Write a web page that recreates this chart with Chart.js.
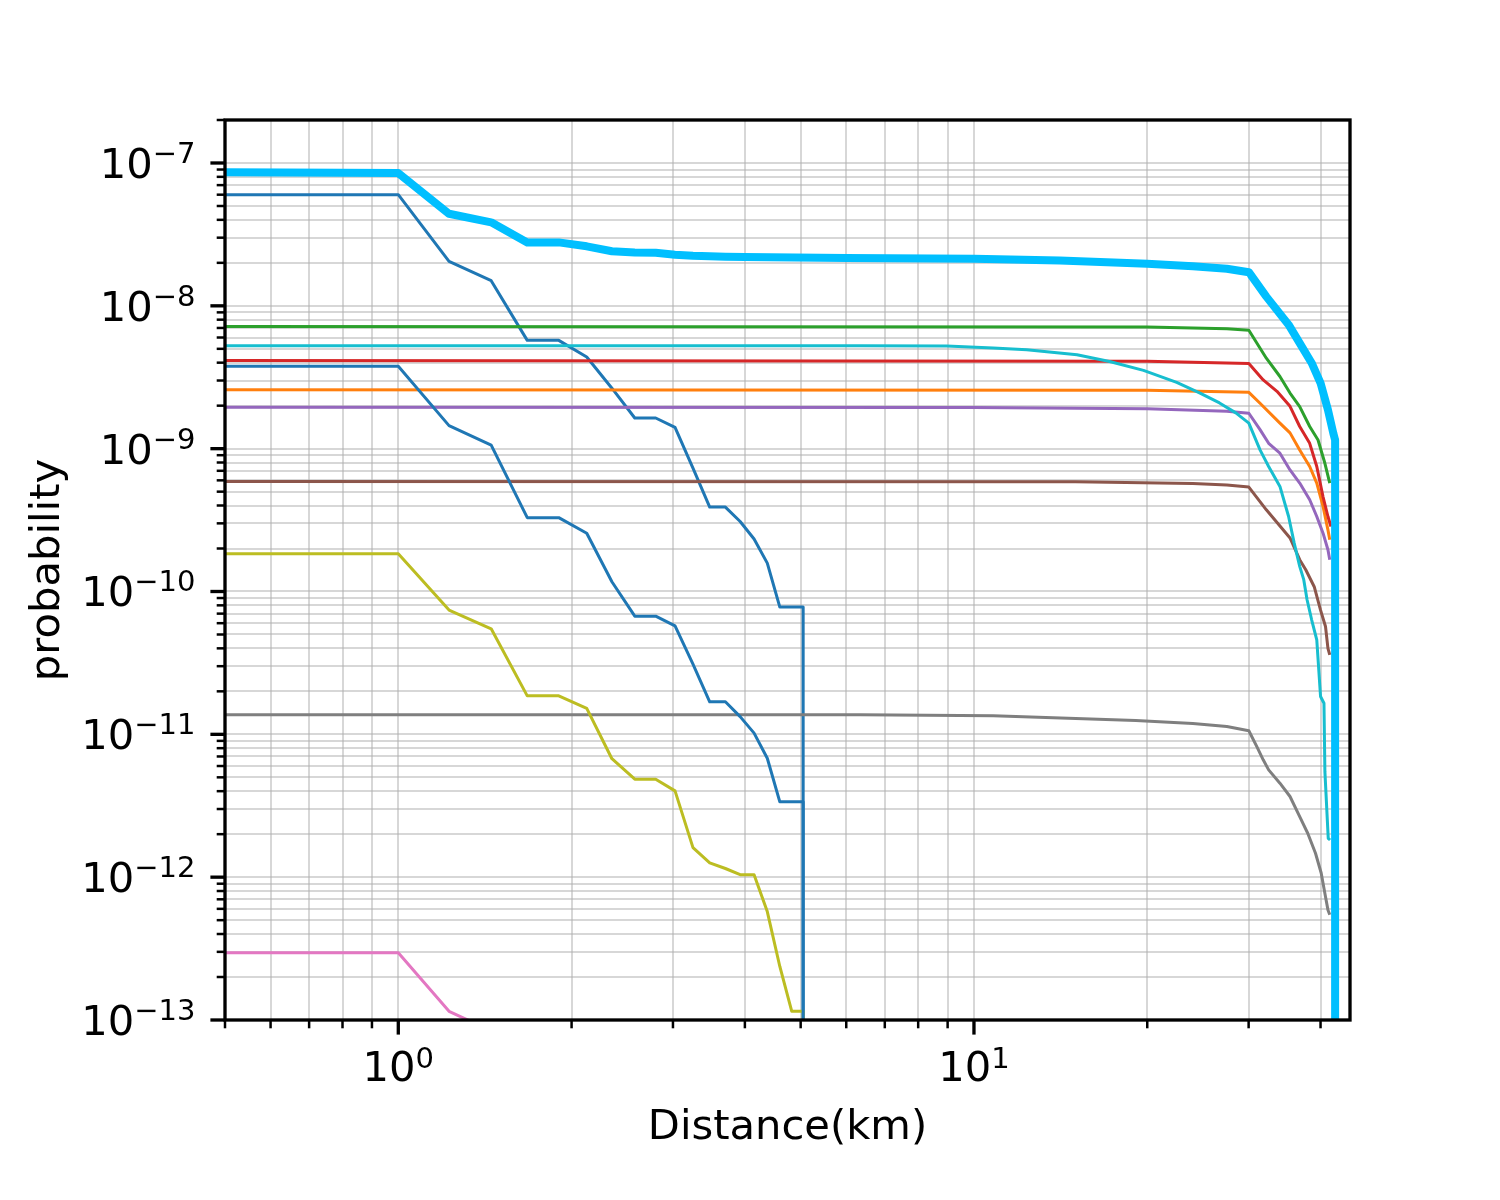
<!DOCTYPE html>
<html>
<head>
<meta charset="utf-8">
<style>
html,body{margin:0;padding:0;background:#ffffff;}
canvas{display:block;}
</style>
<script src="https://cdn.jsdelivr.net/npm/chart.js@4.4.1/dist/chart.umd.min.js"></script>
</head>
<body>
<canvas id="c" width="1500" height="1200" style="width:1500px;height:1200px"></canvas>
<script>
// ---------------- data ----------------
const stepX = [0.5, 1.0, 1.225, 1.45, 1.675, 1.9, 2.125, 2.35, 2.575, 2.8, 3.025, 3.25, 3.475, 3.7, 3.925, 4.15, 4.375, 4.6, 4.825, 5.05, 5.05];

const blueAY = [6.0e-8, 6.0e-8, 2.05e-8, 1.50e-8, 5.73e-9, 5.73e-9, 4.38e-9, 2.65e-9, 1.64e-9, 1.64e-9, 1.41e-9, 7.3e-10, 3.90e-10, 3.90e-10, 3.09e-10, 2.33e-10, 1.58e-10, 7.78e-11, 7.78e-11, 7.78e-11, 1e-16];
const blueBY = [3.77e-9, 3.77e-9, 1.45e-9, 1.06e-9, 3.29e-10, 3.29e-10, 2.56e-10, 1.17e-10, 6.72e-11, 6.72e-11, 5.75e-11, 3.1e-11, 1.69e-11, 1.69e-11, 1.33e-11, 1.02e-11, 6.8e-12, 3.37e-12, 3.37e-12, 3.37e-12, 1e-16];
const oliveY = [1.84e-10, 1.84e-10, 7.42e-11, 5.48e-11, 1.86e-11, 1.86e-11, 1.52e-11, 6.75e-12, 4.85e-12, 4.85e-12, 4.02e-12, 1.61e-12, 1.26e-12, 1.15e-12, 1.04e-12, 1.04e-12, 5.74e-13, 2.37e-13, 1.15e-13, 1.15e-13, 1e-16];

const pinkX = [0.5, 1.0, 1.225, 1.45, 1.675];
const pinkY = [2.96e-13, 2.96e-13, 1.15e-13, 8.4e-14, 3.0e-14];

const sumX = [0.5, 1.0, 1.225, 1.45, 1.675, 1.9, 2.125, 2.35, 2.575, 2.8, 3.025, 3.25, 3.475, 3.7, 4.0, 6.0, 10.0, 14.1, 20.0, 24.0, 27.5, 30.025, 32.2, 35.2, 36.8, 38.6, 40.0, 41.2, 42.1, 42.4, 42.4];
const sumY = [8.6e-8, 8.5e-8, 4.41e-8, 3.84e-8, 2.78e-8, 2.78e-8, 2.61e-8, 2.41e-8, 2.36e-8, 2.35e-8, 2.28e-8, 2.24e-8, 2.22e-8, 2.21e-8, 2.20e-8, 2.16e-8, 2.14e-8, 2.08e-8, 1.97e-8, 1.89e-8, 1.82e-8, 1.72e-8, 1.16e-8, 7.38e-9, 5.48e-9, 3.98e-9, 2.88e-9, 1.87e-9, 1.28e-9, 1.15e-9, 1e-16];

const greenX = [0.5, 20, 27.5, 30.025, 32.2, 34.0, 35.4, 36.8, 38.3, 39.6, 40.7, 41.5];
const greenY = [7.18e-9, 7.1e-9, 6.9e-9, 6.75e-9, 4.3e-9, 3.2e-9, 2.45e-9, 1.97e-9, 1.43e-9, 1.15e-9, 7.9e-10, 5.74e-10];

const redX = [0.5, 20, 30.025, 31.8, 33.6, 35.4, 36.8, 38.3, 39.4, 40.4, 41.2, 41.7];
const redY = [4.15e-9, 4.1e-9, 3.95e-9, 3.03e-9, 2.52e-9, 1.98e-9, 1.43e-9, 1.09e-9, 7.5e-10, 4.6e-10, 3.35e-10, 2.85e-10];

const orangeX = [0.5, 20, 30.025, 31.4, 34.0, 35.4, 36.8, 38.3, 39.4, 40.4, 41.2, 41.5];
const orangeY = [2.58e-9, 2.56e-9, 2.48e-9, 2.08e-9, 1.51e-9, 1.29e-9, 9.8e-10, 7.5e-10, 5.74e-10, 3.94e-10, 2.7e-10, 2.3e-10];

const purpleX = [0.5, 10, 20, 27.5, 30.025, 31.4, 32.5, 34.0, 35.4, 36.8, 38.3, 39.4, 40.4, 41.2, 41.5];
const purpleY = [1.95e-9, 1.94e-9, 1.90e-9, 1.83e-9, 1.77e-9, 1.36e-9, 1.09e-9, 9.3e-10, 7.1e-10, 5.74e-10, 4.39e-10, 3.35e-10, 2.56e-10, 1.96e-10, 1.67e-10];

const brownX = [0.5, 15, 24.0, 27.5, 30.025, 32.2, 35.4, 36.8, 37.7, 39.0, 40.0, 40.8, 41.2, 41.5];
const brownY = [5.89e-10, 5.87e-10, 5.71e-10, 5.56e-10, 5.38e-10, 3.73e-10, 2.37e-10, 1.67e-10, 1.42e-10, 1.08e-10, 7.4e-11, 5.69e-11, 4.0e-11, 3.6e-11];

const grayX = [0.5, 6.35, 10.8, 19.1, 24.0, 27.5, 30.025, 31.0, 31.8, 32.5, 34.0, 35.4, 36.8, 38.0, 39.2, 40.1, 40.8, 41.2, 41.5];
const grayY = [1.37e-11, 1.37e-11, 1.35e-11, 1.25e-11, 1.19e-11, 1.135e-11, 1.06e-11, 8.2e-12, 6.63e-12, 5.64e-12, 4.55e-12, 3.67e-12, 2.65e-12, 2.03e-12, 1.47e-12, 1.07e-12, 7.3e-13, 5.9e-13, 5.45e-13];

const cyanX = [0.5, 6.35, 8.97, 10.8, 12.35, 15.1, 17.2, 19.7, 22.5, 24.7, 26.7, 28.5, 30.025, 31.4, 32.5, 34.0, 35.2, 36.0, 36.8, 37.4, 37.9, 38.6, 39.4, 40.0, 40.55, 40.7, 41.25, 41.55];
const cyanY = [5.26e-9, 5.26e-9, 5.23e-9, 5.06e-9, 4.93e-9, 4.55e-9, 4.08e-9, 3.53e-9, 2.91e-9, 2.45e-9, 2.09e-9, 1.78e-9, 1.51e-9, 9.8e-10, 7.5e-10, 5.44e-10, 3.35e-10, 2.18e-10, 1.5e-10, 1.21e-10, 8.75e-11, 6.34e-11, 4.59e-11, 1.84e-11, 1.65e-11, 5.5e-12, 1.87e-12, 1.82e-12];

// axis ticks
const xMajorTicks = [1, 10];
const xTickExponents = ['0', '1'];
const yMajorTicks = [1e-13, 1e-12, 1e-11, 1e-10, 1e-9, 1e-8, 1e-7];
const yTickExponents = ['\u221213', '\u221212', '\u221211', '\u221210', '\u22129', '\u22128', '\u22127'];
const tickBase = '10';
const xTitle = 'Distance(km)';
const yTitle = 'probability';
const xMin = 0.5, xMax = 45, yMin = 1e-13, yMax = 2e-7;

// ---------------- series (matplotlib draw order, bottom to top) ----------------
const series = [
  {xs: stepX,   ys: blueAY,  color: '#1f77b4', w: 3},
  {xs: orangeX, ys: orangeY, color: '#ff7f0e', w: 3},
  {xs: greenX,  ys: greenY,  color: '#2ca02c', w: 3},
  {xs: redX,    ys: redY,    color: '#d62728', w: 3},
  {xs: purpleX, ys: purpleY, color: '#9467bd', w: 3},
  {xs: brownX,  ys: brownY,  color: '#8c564b', w: 3},
  {xs: pinkX,   ys: pinkY,   color: '#e377c2', w: 3},
  {xs: grayX,   ys: grayY,   color: '#7f7f7f', w: 3},
  {xs: stepX,   ys: oliveY,  color: '#bcbd22', w: 3},
  {xs: cyanX,   ys: cyanY,   color: '#17becf', w: 3},
  {xs: stepX,   ys: blueBY,  color: '#1f77b4', w: 3},
  {xs: sumX,    ys: sumY,    color: '#00bfff', w: 8}
];

function minorTicks(e0, e1, lo, hi) {
  const out = [];
  for (let e = e0; e <= e1; e++) {
    for (let m = 1; m <= 9; m++) {
      const v = m * Math.pow(10, e);
      if (v >= lo * (1 - 1e-9) && v <= hi * (1 + 1e-9)) out.push({value: v, major: m === 1});
    }
  }
  return out;
}
const xTickList = minorTicks(-1, 1, xMin, xMax);
const yTickList = minorTicks(-13, -7, yMin, yMax);

const FONT = "'DejaVu Sans', 'Liberation Sans', sans-serif";
const LABEL_PX = 41.67;
const SUP_PX = 29;

const datasets = series.map((s, i) => ({
  data: s.xs.map((x, j) => ({x: x, y: s.ys[j]})),
  borderColor: s.color,
  backgroundColor: s.color,
  borderWidth: s.w,
  showLine: true,
  pointRadius: 0,
  pointHoverRadius: 0,
  tension: 0,
  fill: false,
  clip: 0,
  borderJoinStyle: 'round',
  borderCapStyle: 'butt',
  order: series.length - 1 - i
}));

const axesPlugin = {
  id: 'mplAxes',
  afterDraw(chart) {
    const ctx = chart.ctx;
    const a = chart.chartArea;
    const xs = chart.scales.x, ys = chart.scales.y;
    ctx.save();
    ctx.strokeStyle = '#000000';
    ctx.fillStyle = '#000000';
    ctx.lineCap = 'butt';
    // tick marks
    xTickList.forEach(t => {
      const px = xs.getPixelForValue(t.value);
      ctx.lineWidth = t.major ? 3.33 : 2.5;
      ctx.beginPath();
      ctx.moveTo(px, a.bottom);
      ctx.lineTo(px, a.bottom + (t.major ? 14.6 : 8.3));
      ctx.stroke();
    });
    yTickList.forEach(t => {
      const py = ys.getPixelForValue(t.value);
      ctx.lineWidth = t.major ? 3.33 : 2.5;
      ctx.beginPath();
      ctx.moveTo(a.left, py);
      ctx.lineTo(a.left - (t.major ? 14.6 : 8.3), py);
      ctx.stroke();
    });
    // spines
    ctx.lineWidth = 3.33;
    ctx.lineJoin = 'miter';
    ctx.strokeRect(a.left, a.top, a.right - a.left, a.bottom - a.top);

    // tick labels
    ctx.textBaseline = 'alphabetic';
    ctx.textAlign = 'left';
    const baseFont = LABEL_PX + 'px ' + FONT;
    const supFont = SUP_PX + 'px ' + FONT;
    ctx.font = baseFont;
    const wBase = ctx.measureText(tickBase).width;
    xMajorTicks.forEach((v, i) => {
      const px = xs.getPixelForValue(v);
      ctx.font = supFont;
      const wSup = ctx.measureText(xTickExponents[i]).width;
      const x0 = px - (wBase + wSup) / 2;
      ctx.font = baseFont;
      ctx.fillText(tickBase, x0, a.bottom + 61);
      ctx.font = supFont;
      ctx.fillText(xTickExponents[i], x0 + wBase, a.bottom + 47.5);
    });
    yMajorTicks.forEach((v, i) => {
      const py = ys.getPixelForValue(v);
      ctx.font = supFont;
      const wSup = ctx.measureText(yTickExponents[i]).width;
      const right = a.left - 29.5;
      const x0 = right - wBase - wSup;
      ctx.font = baseFont;
      ctx.fillText(tickBase, x0, py + 15);
      ctx.font = supFont;
      ctx.fillText(yTickExponents[i], x0 + wBase, py);
    });

    // axis titles
    ctx.font = baseFont;
    ctx.textAlign = 'center';
    ctx.fillText(xTitle, (a.left + a.right) / 2, 1139);
    ctx.save();
    ctx.translate(59, (a.top + a.bottom) / 2);
    ctx.rotate(-Math.PI / 2);
    ctx.fillText(yTitle, 0, 0);
    ctx.restore();
    ctx.restore();
  }
};

const gridColor = 'rgba(176,176,176,0.5)';

new Chart(document.getElementById('c'), {
  type: 'scatter',
  data: {datasets: datasets},
  options: {
    responsive: false,
    maintainAspectRatio: false,
    devicePixelRatio: 1,
    animation: false,
    events: [],
    layout: {padding: {left: 225, right: 150, top: 120, bottom: 180}},
    plugins: {legend: {display: false}, tooltip: {enabled: false}, title: {display: false}},
    scales: {
      x: {
        type: 'logarithmic',
        min: xMin, max: xMax,
        afterBuildTicks: (scale) => { scale.ticks = xTickList.map(t => ({value: t.value, major: t.major})); },
        ticks: {display: false},
        grid: {display: true, drawTicks: false, color: gridColor, lineWidth: 2, drawOnChartArea: true},
        border: {display: false},
        title: {display: false}
      },
      y: {
        type: 'logarithmic',
        min: yMin, max: yMax,
        afterBuildTicks: (scale) => { scale.ticks = yTickList.map(t => ({value: t.value, major: t.major})); },
        ticks: {display: false},
        grid: {display: true, drawTicks: false, color: gridColor, lineWidth: 2, drawOnChartArea: true},
        border: {display: false},
        title: {display: false}
      }
    }
  },
  plugins: [axesPlugin]
});
</script>
</body>
</html>
